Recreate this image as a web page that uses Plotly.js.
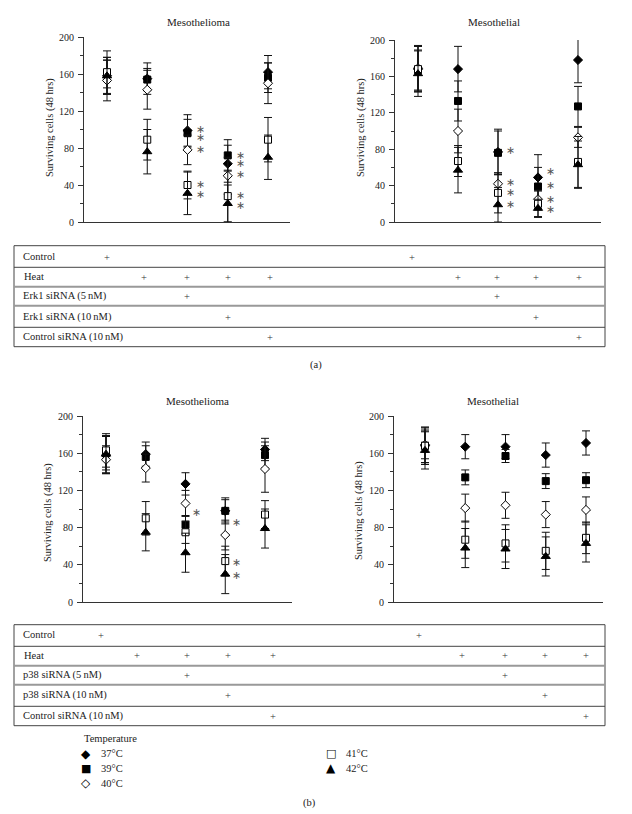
<!DOCTYPE html>
<html><head><meta charset="utf-8">
<script src="https://cdn.plot.ly/plotly-3.0.1.min.js"></script>
<style>html,body{margin:0;padding:0;background:#fff}</style>
</head><body><div id="chart" style="width:632px;height:814px"></div>
<script>
// ---------- DATA ----------
const groups = [1, 2, 3, 4, 5];
const temps = ['37°C', '39°C', '40°C', '41°C', '42°C'];
const panelTitles = ['Mesothelioma', 'Mesothelial'];
const yTitle = 'Surviving cells (48 hrs)';

// (a) Erk1 siRNA – Mesothelioma: rows = temperatures, cols = groups
const erkTumorMeans = [
  [158, 155, 99, 63, 162],
  [160, 154, 96, 72, 156],
  [153, 143, 78, 50, 150],
  [162, 89, 40, 28, 89],
  [158, 76, 31, 20, 70]
];
const erkTumorErr = [
  [20, 17, 17, 20, 18],
  [15, 12, 15, 17, 16],
  [22, 21, 16, 20, 22],
  [23, 22, 15, 28, 24],
  [20, 24, 23, 20, 24]
];
// (a) Erk1 siRNA – Mesothelial
const erkNormalMeans = [
  [168, 168, 77, 49, 178],
  [167, 133, 76, 39, 127],
  [169, 100, 42, 25, 93],
  [168, 67, 32, 20, 66],
  [163, 57, 19, 15, 63]
];
const erkNormalErr = [
  [25, 25, 25, 25, 25],
  [22, 22, 24, 21, 22],
  [25, 24, 12, 10, 11],
  [25, 17, 22, 14, 28],
  [25, 25, 19, 10, 26]
];
// (b) p38 siRNA – Mesothelioma
const p38TumorMeans = [
  [158, 159, 127, 98, 164],
  [160, 156, 83, 98, 158],
  [153, 144, 106, 72, 143],
  [163, 90, 75, 44, 94],
  [159, 75, 53, 30, 79]
];
const p38TumorErr = [
  [20, 13, 12, 14, 12],
  [18, 12, 10, 12, 14],
  [15, 15, 14, 16, 25],
  [18, 18, 12, 16, 15],
  [20, 20, 21, 21, 21]
];
// (b) p38 siRNA – Mesothelial
const p38NormalMeans = [
  [168, 167, 167, 158, 171],
  [168, 134, 157, 130, 131],
  [169, 101, 104, 94, 99],
  [168, 67, 63, 55, 69],
  [163, 58, 57, 49, 63]
];
const p38NormalErr = [
  [20, 13, 13, 13, 13],
  [18, 8, 7, 8, 8],
  [15, 15, 14, 14, 14],
  [20, 20, 20, 20, 17],
  [20, 21, 21, 21, 20]
];

// significance asterisks (group, value)
const erkTumorSigGroup = [3, 3, 3, 3, 3, 4, 4, 4, 4, 4];
const erkTumorSigY = [100, 91, 78, 40, 30, 72, 63, 51, 29, 18];
const erkNormalSigGroup = [3, 3, 3, 3, 4, 4, 4, 4];
const erkNormalSigY = [79, 43, 32, 19, 55, 40, 25, 14];
const p38TumorSigGroup = [3, 4, 4, 4];
const p38TumorSigY = [96, 86, 43, 29];

// treatment tables
const rowLabelsA = ['Control', 'Heat', 'Erk1 siRNA (5\u2009nM)', 'Erk1 siRNA (10\u2009nM)', 'Control siRNA (10\u2009nM)'];
const rowLabelsB = ['Control', 'Heat', 'p38 siRNA (5\u2009nM)', 'p38 siRNA (10\u2009nM)', 'Control siRNA (10\u2009nM)'];
const treatmentPlan = [
  [1, 0, 0, 0, 0, 1, 0, 0, 0, 0],
  [0, 1, 1, 1, 1, 0, 1, 1, 1, 1],
  [0, 0, 1, 0, 0, 0, 0, 1, 0, 0],
  [0, 0, 0, 1, 0, 0, 0, 0, 1, 0],
  [0, 0, 0, 0, 1, 0, 0, 0, 0, 1]
];
const legendTitle = 'Temperature';
const legendGlyphs = ['\u25C6', '\u25A0', '\u25C7', '\u25A1', '\u25B2'];
const captions = ['(a)', '(b)'];

// ---------- STYLE / LAYOUT ----------
const W = 632, H = 814;
const F = 'Liberation Serif, Times New Roman, serif';
const TXT = '#222';
const AX = '#333';
const px = v => v / W;
const py = v => 1 - v / H;

const markerStyles = [
  {symbol: 'diamond', size: 7, color: '#000', line: {color: '#000', width: 1}},
  {symbol: 'square', size: 7, color: '#000', line: {color: '#000', width: 1}},
  {symbol: 'diamond', size: 7, color: '#fff', line: {color: '#000', width: 1}},
  {symbol: 'square', size: 7, color: '#fff', line: {color: '#000', width: 1}},
  {symbol: 'triangle-up', size: 8, color: '#000', line: {color: '#000', width: 1}}
];

const panels = [
  {xa: 'x', ya: 'y', means: erkTumorMeans, errs: erkTumorErr,
   sigG: erkTumorSigGroup, sigY: erkTumorSigY, xshift: 13,
   xdom: [84, 290], ydom: [222, 37], xr: [1 - 23 / 40.25, 1 + 183 / 40.25]},
  {xa: 'x2', ya: 'y2', means: erkNormalMeans, errs: erkNormalErr,
   sigG: erkNormalSigGroup, sigY: erkNormalSigY, xshift: 12,
   xdom: [395, 601], ydom: [222, 40], xr: [1 - 23 / 40, 1 + 183 / 40]},
  {xa: 'x3', ya: 'y3', means: p38TumorMeans, errs: p38TumorErr,
   sigG: p38TumorSigGroup, sigY: p38TumorSigY, xshift: 11,
   xdom: [83, 292], ydom: [602, 416], xr: [1 - 23 / 39.75, 1 + 186 / 39.75]},
  {xa: 'x4', ya: 'y4', means: p38NormalMeans, errs: p38NormalErr,
   sigG: [], sigY: [], xshift: 12,
   xdom: [394, 603], ydom: [602, 416], xr: [1 - 31 / 40.25, 1 + 178 / 40.25]}
];

const traces = [];
const annotations = [];
const layout = {
  width: W, height: H,
  margin: {l: 0, r: 0, t: 0, b: 0},
  paper_bgcolor: '#fff', plot_bgcolor: 'rgba(0,0,0,0)',
  font: {family: F, size: 10, color: TXT},
  showlegend: false,
  shapes: [],
  annotations: annotations
};

panels.forEach((p, pi) => {
  const xk = p.xa === 'x' ? 'xaxis' : 'xaxis' + p.xa.slice(1);
  const yk = p.ya === 'y' ? 'yaxis' : 'yaxis' + p.ya.slice(1);
  layout[xk] = {
    domain: [px(p.xdom[0]), px(p.xdom[1])], range: p.xr, anchor: p.ya,
    showline: true, linecolor: AX, linewidth: 1, ticks: '', showticklabels: false,
    showgrid: false, zeroline: false, fixedrange: true
  };
  layout[yk] = {
    domain: [py(p.ydom[0]), py(p.ydom[1])], range: [0, 200], anchor: p.xa,
    tick0: 0, dtick: 40, ticks: 'outside', ticklen: 5, tickwidth: 1, tickcolor: AX,
    showline: true, linecolor: AX, linewidth: 1, showgrid: false, zeroline: false,
    tickfont: {family: F, size: 10, color: TXT}, ticklabelstandoff: 2,
    minor: {dtick: 20, tick0: 0, ticks: 'outside', ticklen: 3, tickcolor: AX, showgrid: false},
    fixedrange: true
  };
  p.means.forEach((m, ti) => {
    traces.push({
      type: 'scatter', mode: 'markers', x: groups, y: m,
      xaxis: p.xa, yaxis: p.ya, name: temps[ti], showlegend: false,
      marker: markerStyles[ti],
      error_y: {type: 'data', array: p.errs[ti], symmetric: true, visible: true,
                color: '#111', thickness: 1, width: 4},
      cliponaxis: false, hoverinfo: 'skip'
    });
  });
  p.sigG.forEach((g, i) => {
    annotations.push({xref: p.xa, yref: p.ya, x: g, y: p.sigY[i], text: '\u2217',
      showarrow: false, xshift: p.xshift, xanchor: 'center', yanchor: 'middle',
      font: {family: 'DejaVu Sans', size: 11, color: '#555'}});
  });
});

// panel titles & y titles
const titlePos = [[198, 22], [494, 22], [197, 401], [493, 401]];
titlePos.forEach((t, i) => annotations.push({xref: 'paper', yref: 'paper', x: px(t[0]), y: py(t[1]),
  text: panelTitles[i % 2], showarrow: false, xanchor: 'center', yanchor: 'middle',
  font: {family: F, size: 11, color: TXT}}));
const yTitlePos = [[50, 128], [361, 128], [48, 513], [359, 511]];
yTitlePos.forEach(t => annotations.push({xref: 'paper', yref: 'paper', x: px(t[0]), y: py(t[1]),
  text: yTitle, textangle: -90, showarrow: false, xanchor: 'center', yanchor: 'middle',
  font: {family: F, size: 10.5, color: TXT}}));

// tables
function addTable(top, lines, bottom, rowY, colX, labels) {
  layout.shapes.push({type: 'rect', xref: 'paper', yref: 'paper', x0: px(14), x1: px(605), y0: py(bottom), y1: py(top),
    line: {color: '#444', width: 1}});
  lines.forEach((ly, i) => {
    const gray = (i === 1 || i === 2);
    layout.shapes.push({type: 'line', xref: 'paper', yref: 'paper', x0: px(14), x1: px(605), y0: py(ly), y1: py(ly),
      line: {color: gray ? '#999' : '#444', width: gray ? 2 : 1}});
  });
  labels.forEach((lab, r) => {
    annotations.push({xref: 'paper', yref: 'paper', x: px(r === 1 ? 22 : 21), y: py(rowY[r]), text: lab,
      showarrow: false, xanchor: 'left', yanchor: 'middle', font: {family: F, size: 10.5, color: TXT}});
    treatmentPlan[r].forEach((on, c) => {
      if (on) annotations.push({xref: 'paper', yref: 'paper', x: px(colX[c]), y: py(rowY[r] + 0.5), text: '+',
        showarrow: false, xanchor: 'center', yanchor: 'middle', font: {family: F, size: 10.5, color: '#333'}});
    });
  });
}
addTable(245.7, [267.3, 286.7, 305.7, 327.3], 346.7, [256.7, 276.7, 295.7, 316.7, 337.3],
  [106.7, 144, 186.7, 227.7, 270, 411.7, 457.7, 497, 536, 579.3], rowLabelsA);
addTable(624.7, [646.3, 665.7, 684.7, 706.3], 725.7, [634.7, 655.3, 675.3, 695.3, 716.3],
  [100.7, 136.7, 186.7, 227.7, 272.7, 418.7, 461.7, 505, 545, 586], rowLabelsB);

// legend (Temperature key)
annotations.push({xref: 'paper', yref: 'paper', x: px(82), y: py(738), text: legendTitle, showarrow: false,
  xanchor: 'left', yanchor: 'middle', font: {family: F, size: 10.5, color: TXT}});
const keyPos = [[86, 753.5], [86, 768.5], [86, 783], [331, 753.5], [331, 768]];
temps.forEach((t, i) => {
  annotations.push({xref: 'paper', yref: 'paper', x: px(keyPos[i][0]), y: py(keyPos[i][1]), text: legendGlyphs[i],
    showarrow: false, xanchor: 'center', yanchor: 'middle', font: {family: 'DejaVu Sans', size: i === 1 || i === 3 ? 11 : 12, color: '#000'}});
  annotations.push({xref: 'paper', yref: 'paper', x: px(keyPos[i][0] + 13), y: py(keyPos[i][1]), text: t,
    showarrow: false, xanchor: 'left', yanchor: 'middle', font: {family: F, size: 10.5, color: TXT}});
});

// captions
[[316, 365], [309, 803]].forEach((c, i) => annotations.push({xref: 'paper', yref: 'paper', x: px(c[0]), y: py(c[1]),
  text: captions[i], showarrow: false, xanchor: 'center', yanchor: 'middle', font: {family: F, size: 10.5, color: TXT}}));

Plotly.newPlot('chart', traces, layout, {displayModeBar: false, staticPlot: true});
</script></body></html>
